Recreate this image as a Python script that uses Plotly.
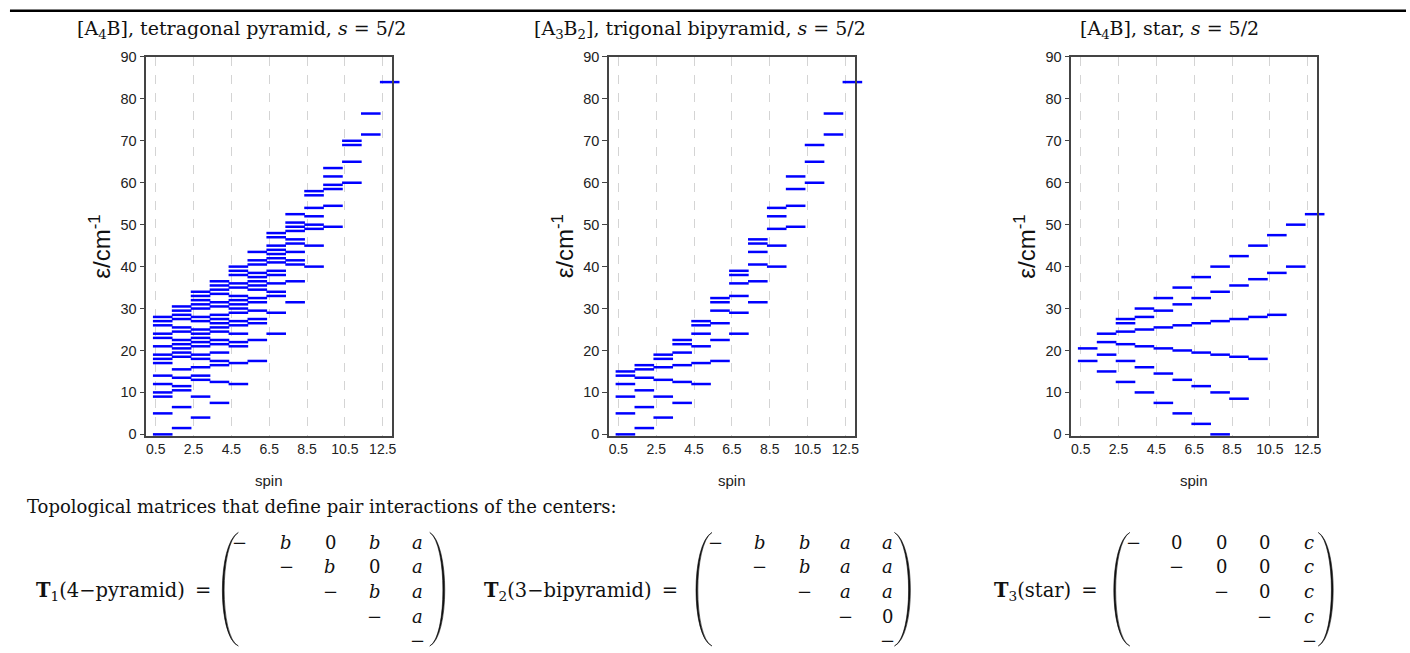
import plotly.graph_objects as go

W, H = 1410, 653

# ---------------- data ----------------
spins = [0.5, 1.5, 2.5, 3.5, 4.5, 5.5, 6.5, 7.5, 8.5, 9.5, 10.5, 11.5, 12.5]
x_tick_vals = [0.5, 2.5, 4.5, 6.5, 8.5, 10.5, 12.5]
x_tick_text = ["0.5", "2.5", "4.5", "6.5", "8.5", "10.5", "12.5"]

pyramid_levels = [
    [0, 5, 9, 10, 12, 14, 17, 18, 19, 21, 23, 24, 26, 27, 28],
    [1.5, 6.5, 10.5, 11.5, 13.5, 15.5, 18.5, 19.5, 20.5, 21.5, 22.5, 24.5, 25.5, 27.5, 28.5, 29.5, 30.5],
    [4, 9, 13, 14, 16, 18, 19, 21, 22, 23, 24, 25, 27, 28, 30, 31, 32, 33, 34],
    [7.5, 12.5, 16.5, 17.5, 19.5, 21.5, 22.5, 24.5, 25.5, 26.5, 27.5, 28.5, 30.5, 31.5, 33.5, 34.5, 35.5, 36.5],
    [12, 17, 21, 22, 24, 26, 27, 29, 30, 31, 32, 33, 35, 36, 38, 39, 40],
    [17.5, 22.5, 26.5, 27.5, 29.5, 31.5, 32.5, 34.5, 35.5, 36.5, 37.5, 38.5, 40.5, 41.5, 43.5],
    [24, 29, 33, 34, 36, 38, 39, 41, 42, 43, 44, 45, 47, 48],
    [31.5, 36.5, 40.5, 41.5, 43.5, 45.5, 46.5, 48.5, 49.5, 50.5, 52.5],
    [40, 45, 49, 50, 52, 54, 57, 58],
    [49.5, 54.5, 58.5, 59.5, 61.5, 63.5],
    [60, 65, 69, 70],
    [71.5, 76.5],
    [84],
]

bipyramid_levels = [
    [0, 5, 9, 12, 14, 15],
    [1.5, 6.5, 10.5, 13.5, 15.5, 16.5],
    [4, 9, 13, 16, 18, 19],
    [7.5, 12.5, 16.5, 19.5, 21.5, 22.5],
    [12, 17, 21, 24, 26, 27],
    [17.5, 22.5, 26.5, 29.5, 31.5, 32.5],
    [24, 29, 33, 36, 38, 39],
    [31.5, 36.5, 40.5, 43.5, 45.5, 46.5],
    [40, 45, 49, 52, 54],
    [49.5, 54.5, 58.5, 61.5],
    [60, 65, 69],
    [71.5, 76.5],
    [84],
]

star_levels = [
    [17.5, 20.5],
    [15, 19, 22, 24],
    [12.5, 17.5, 21.5, 24.5, 26.5, 27.5],
    [10, 16, 21, 25, 28, 30],
    [7.5, 14.5, 20.5, 25.5, 29.5, 32.5],
    [5, 13, 20, 26, 31, 35],
    [2.5, 11.5, 19.5, 26.5, 32.5, 37.5],
    [0, 10, 19, 27, 34, 40],
    [8.5, 18.5, 27.5, 35.5, 42.5],
    [18, 28, 37, 45],
    [28.5, 38.5, 47.5],
    [40, 50],
    [52.5],
]

panel_titles = [
    "[A<sub>4</sub>B], tetragonal pyramid, <i>s</i> = 5/2",
    "[A<sub>3</sub>B<sub>2</sub>], trigonal bipyramid, <i>s</i> = 5/2",
    "[A<sub>4</sub>B], star, <i>s</i> = 5/2",
]
panels = [pyramid_levels, bipyramid_levels, star_levels]

intro_text = "Topological matrices that define pair interactions of the centers:"
matrix_labels = [
    "<b>T</b><sub>1</sub>(4\u2212pyramid) \u2009=",
    "<b>T</b><sub>2</sub>(3\u2212bipyramid) \u2009=",
    "<b>T</b><sub>3</sub>(star) \u2009=",
]
M = "\u2212"
matrix_rows = [
    [[M, "b", "0", "b", "a"], ["", M, "b", "0", "a"], ["", "", M, "b", "a"], ["", "", "", M, "a"], ["", "", "", "", M]],
    [[M, "b", "b", "a", "a"], ["", M, "b", "a", "a"], ["", "", M, "a", "a"], ["", "", "", M, "0"], ["", "", "", "", M]],
    [[M, "0", "0", "0", "c"], ["", M, "0", "0", "c"], ["", "", M, "0", "c"], ["", "", "", M, "c"], ["", "", "", "", M]],
]

# ---------------- layout geometry (target pixels in the picture) ----------------
plot_left = [146.7, 610.7, 1074.3]
plot_w = 246.6
plot_top, plot_bot = 55.7, 435.0
title_cx = [242, 702, 1173]
seg_px = 14.0

label_right = [214, 682, 1103]
col_x = [[240, 287, 331, 376, 419], [718, 762, 807, 848, 890], [1137, 1180, 1225, 1268, 1313]]
row_y = [542, 566, 591, 616, 640]
paren_l = [(222, 239), (697, 714), (1116, 1133)]
paren_r = [(431, 447), (897, 914), (1322, 1338)]
paren_top, paren_bot = 532, 648

SANS = "Liberation Sans, Arial, sans-serif"
SERIF = "DejaVu Serif, serif"

# vertical calibration of the photographed page (observed: y_photo = 0.9786*y + 6.7)
VS, VO = 0.9786, 6.7


def fx(px):
    return px / W


def fy(py):
    yy = (py - VO) / VS
    yy = min(max(yy, 0.0), H)
    return 1 - yy / H


fig = go.Figure()
annotations = []
shapes = []

unit_px = plot_w / 13.0
off = seg_px / 2 / unit_px

for i, levels in enumerate(panels):
    xs, ys = [], []
    for s, lv in zip(spins, levels):
        for e in lv:
            xs.append(s + off)
            ys.append(e)
    ax = "" if i == 0 else str(i + 1)
    fig.add_trace(go.Scatter(
        x=xs, y=ys, mode="markers", xaxis="x" + ax, yaxis="y" + ax,
        marker=dict(symbol="line-ew", size=seg_px, color="#0000ff",
                    line=dict(width=2.5, color="#0000ff")),
        cliponaxis=False, showlegend=False, hoverinfo="x+y",
    ))
    dom_x = [fx(plot_left[i]), fx(plot_left[i] + plot_w)]
    dom_y = [fy(plot_bot), fy(plot_top)]
    fig.layout["xaxis" + ax] = dict(
        domain=dom_x, range=[0, 13], anchor="y" + ax,
        tickvals=x_tick_vals, ticktext=x_tick_text, ticks="",
        showgrid=True, griddash="dash", gridcolor="#d4d4d4", gridwidth=1,
        showline=True, linecolor="#444", linewidth=1.5, mirror=True,
        zeroline=False, tickfont=dict(family=SANS, size=14, color="#222"),
    )
    fig.layout["yaxis" + ax] = dict(
        domain=dom_y, range=[-0.3, 90], anchor="x" + ax,
        tickvals=list(range(0, 91, 10)), ticks="outside", ticklen=5, tickwidth=1,
        tickcolor="#444", showgrid=False, zeroline=False,
        showline=True, linecolor="#444", linewidth=1.5, mirror=True,
        tickfont=dict(family=SANS, size=14.5, color="#222"),
    )
    annotations.append(dict(
        x=fx(title_cx[i]), y=fy(28), xref="paper", yref="paper",
        text=panel_titles[i], showarrow=False, xanchor="center", yanchor="middle",
        font=dict(family=SERIF, size=19, color="#111"),
    ))
    annotations.append(dict(
        x=fx(plot_left[i] + plot_w / 2), y=fy(480), xref="paper", yref="paper",
        text="spin", showarrow=False, xanchor="center", yanchor="middle",
        font=dict(family=SANS, size=15, color="#222"),
    ))
    annotations.append(dict(
        x=fx(plot_left[i] - 46), y=fy((plot_top + plot_bot) / 2), xref="paper", yref="paper",
        text="\u03b5/cm<sup>-1</sup>", showarrow=False, textangle=-90,
        xanchor="center", yanchor="middle",
        font=dict(family=SANS, size=24, color="#111"),
    ))

# top rule
shapes.append(dict(type="line", xref="paper", yref="paper",
                   x0=fx(10), x1=fx(1410), y0=fy(9.5), y1=fy(9.5),
                   line=dict(color="black", width=2.5)))

annotations.append(dict(
    x=fx(25), y=fy(506), xref="paper", yref="paper", text=intro_text,
    showarrow=False, xanchor="left", yanchor="middle",
    font=dict(family=SERIF, size=18, color="#111"),
))


def paren(x_end, x_mid, y0, y1, thick):
    # crescent-shaped parenthesis (filled), ends at x_end, bulge to x_mid
    def c(xe, xm):
        return xe + (xm - xe) / 0.75
    sgn = 1 if x_end > x_mid else -1
    xo = c(x_end, x_mid)
    xi = c(x_end, x_mid + sgn * thick)
    h = y1 - y0
    k = 0.1
    p = "M {},{} C {},{} {},{} {},{} C {},{} {},{} {},{} Z".format(
        fx(x_end), fy(y0),
        fx(xo), fy(y0 + k * h), fx(xo), fy(y1 - k * h), fx(x_end), fy(y1),
        fx(xi), fy(y1 - k * h), fx(xi), fy(y0 + k * h), fx(x_end), fy(y0),
    )
    return dict(type="path", xref="paper", yref="paper", path=p,
                fillcolor="#111", line=dict(color="#111", width=0.6))


for k in range(3):
    annotations.append(dict(
        x=fx(label_right[k]), y=fy(591), xref="paper", yref="paper",
        text=matrix_labels[k], showarrow=False, xanchor="right", yanchor="middle",
        font=dict(family=SERIF, size=19.5, color="#111"),
    ))
    for r, row in enumerate(matrix_rows[k]):
        for cidx, ent in enumerate(row):
            if not ent:
                continue
            txt = "<i>" + ent + "</i>" if ent.isalpha() else ent
            annotations.append(dict(
                x=fx(col_x[k][cidx]), y=fy(row_y[r]), xref="paper", yref="paper",
                text=txt, showarrow=False, xanchor="center", yanchor="middle",
                font=dict(family=SERIF, size=18, color="#111"),
            ))
    (a0, a1), (b0, b1) = paren_l[k], paren_r[k]
    shapes.append(paren(a1, a0 + 1, paren_top, paren_bot, 1.8))
    shapes.append(paren(b0, b1 - 1, paren_top, paren_bot, 1.8))

fig.update_layout(
    width=W, height=H, margin=dict(l=0, r=0, t=0, b=0),
    paper_bgcolor="white", plot_bgcolor="white",
    annotations=annotations, shapes=shapes, showlegend=False,
)

fig.write_html(
    "out.html",
    config={"displayModeBar": False},
    post_script="document.body.style.margin='0px';document.body.style.overflow='hidden';",
)
